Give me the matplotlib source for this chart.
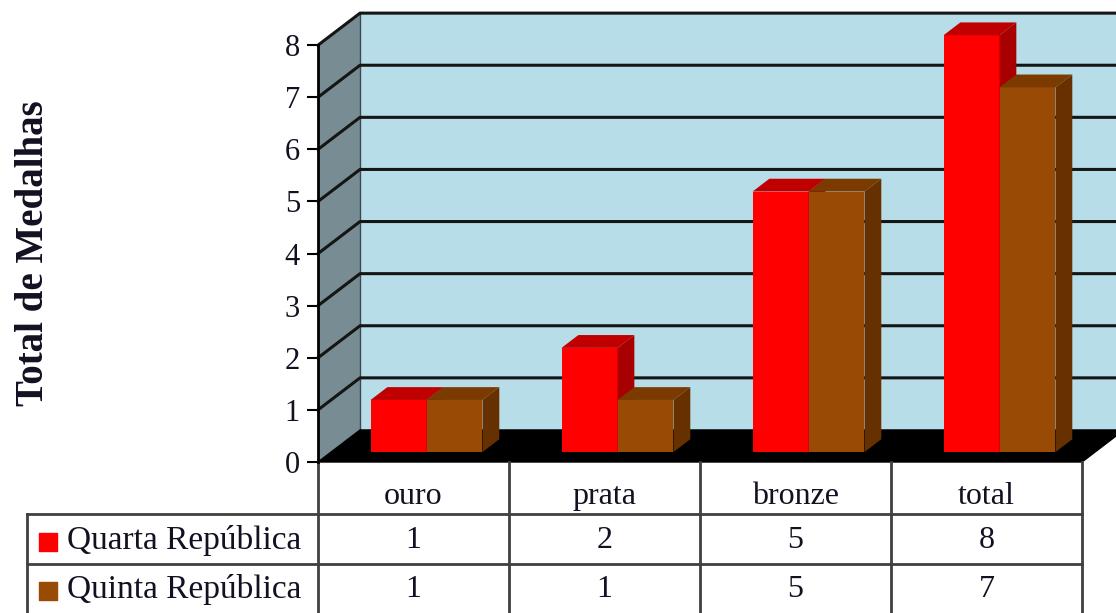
import matplotlib.pyplot as plt
from matplotlib.patches import Polygon

categories = ['ouro', 'prata', 'bronze', 'total']
series_names = ['Quarta República', 'Quinta República']
quarta = [1, 2, 5, 8]
quinta = [1, 1, 5, 7]
y_ticks = [0, 1, 2, 3, 4, 5, 6, 7, 8]

# colours: front, top, side
colors = [('#FF0000', '#C00000', '#A80000'),
          ('#994A05', '#7A3A00', '#663000')]

# oblique depth offset in data units
DX, DY = 0.22, 0.615
ymax = 8
n = len(categories)
bar_w = 0.293
f0, f1 = 0.31, 0.71

fig = plt.figure(figsize=(11.16, 6.13), dpi=100)
ax = fig.add_axes([0, 0, 1, 1])
ax.set_xlim(-1.665, 4.178)
ax.set_ylim(-2.898, 8.867)

# side wall and back wall
ax.add_patch(Polygon([(0, 0), (DX, DY), (DX, ymax + DY), (0, ymax)],
                     facecolor='#788C94', edgecolor='none', zorder=1))
ax.add_patch(Polygon([(DX, DY), (n + DX + 1, DY), (n + DX + 1, ymax + DY), (DX, ymax + DY)],
                     facecolor='#B7DEE8', edgecolor='none', zorder=1))
ax.plot([DX, DX], [DY, ymax + DY], color='#3a4a50', lw=1, zorder=2)

# gridlines on both walls
for t in y_ticks[1:]:
    ax.plot([0, DX, n + DX + 1], [t, t + DY, t + DY], color='#151515', lw=2.2, zorder=2)

# floor
ax.add_patch(Polygon([(0, 0), (n, 0), (n + DX, DY), (DX, DY)],
                     facecolor='black', edgecolor='black', lw=1, zorder=3))


def draw_bar(x0, v, cols):
    front, top, side = cols
    xa, xb = x0 + f0 * DX, x0 + bar_w + f0 * DX
    ya = f0 * DY
    dx, dy = (f1 - f0) * DX, (f1 - f0) * DY
    ax.add_patch(Polygon([(xa, ya), (xb, ya), (xb, v + ya), (xa, v + ya)],
                         facecolor=front, edgecolor='none', zorder=4))
    ax.add_patch(Polygon([(xa, v + ya), (xb, v + ya), (xb + dx, v + ya + dy), (xa + dx, v + ya + dy)],
                         facecolor=top, edgecolor='none', zorder=4))
    ax.add_patch(Polygon([(xb, ya), (xb + dx, ya + dy), (xb + dx, v + ya + dy), (xb, v + ya)],
                         facecolor=side, edgecolor='none', zorder=4))


for i in range(n):
    left = i + 0.5 - bar_w
    draw_bar(left, quarta[i], colors[0])
    draw_bar(left + bar_w, quinta[i], colors[1])

# y axis on the front edge
for s in ['top', 'right', 'bottom']:
    ax.spines[s].set_visible(False)
ax.spines['left'].set_position(('data', 0))
ax.spines['left'].set_bounds(0, ymax)
ax.spines['left'].set_linewidth(2)
ax.spines['left'].set_zorder(5)
ax.set_yticks(y_ticks)
ax.tick_params(axis='y', direction='out', length=8, width=1.5, pad=5,
               labelsize=22, labelcolor='#111122')
for lab in ax.get_yticklabels():
    lab.set_fontfamily('Liberation Serif')
ax.set_xticks([])
ax.text(-1.49, 4.0, 'Total de Medalhas', rotation=90, ha='center', va='center',
        fontsize=28, fontweight='bold', family='Liberation Serif', color='#111122')

# data table
row1, row2, bottom = -1.0, -1.958, -3.0
legend_x = -1.524
lc = '#404040'
for x in range(n + 1):
    ax.plot([x, x], [0, bottom], color=lc, lw=2, zorder=5)
ax.plot([legend_x, legend_x], [row1, bottom], color=lc, lw=2, zorder=5)
for y in [row1, row2]:
    ax.plot([legend_x, n], [y, y], color=lc, lw=2, zorder=5)

txt = dict(ha='center', va='center', fontsize=23, family='Liberation Serif', color='#111122')
for i, c in enumerate(categories):
    ax.text(i + 0.5, -0.67, c, **txt)
    ax.text(i + 0.5, -1.50, str(quarta[i]), **txt)
    ax.text(i + 0.5, -2.45, str(quinta[i]), **txt)

for name, cols, y in zip(series_names, colors, [-1.50, -2.45]):
    ax.scatter([-1.415], [y - 0.03], marker='s', s=150, color=cols[0], zorder=6)
    ax.text(-1.315, y, name, ha='left', va='center', fontsize=24,
            family='Liberation Serif', color='#111122')

fig.savefig('out.png', dpi=100)
